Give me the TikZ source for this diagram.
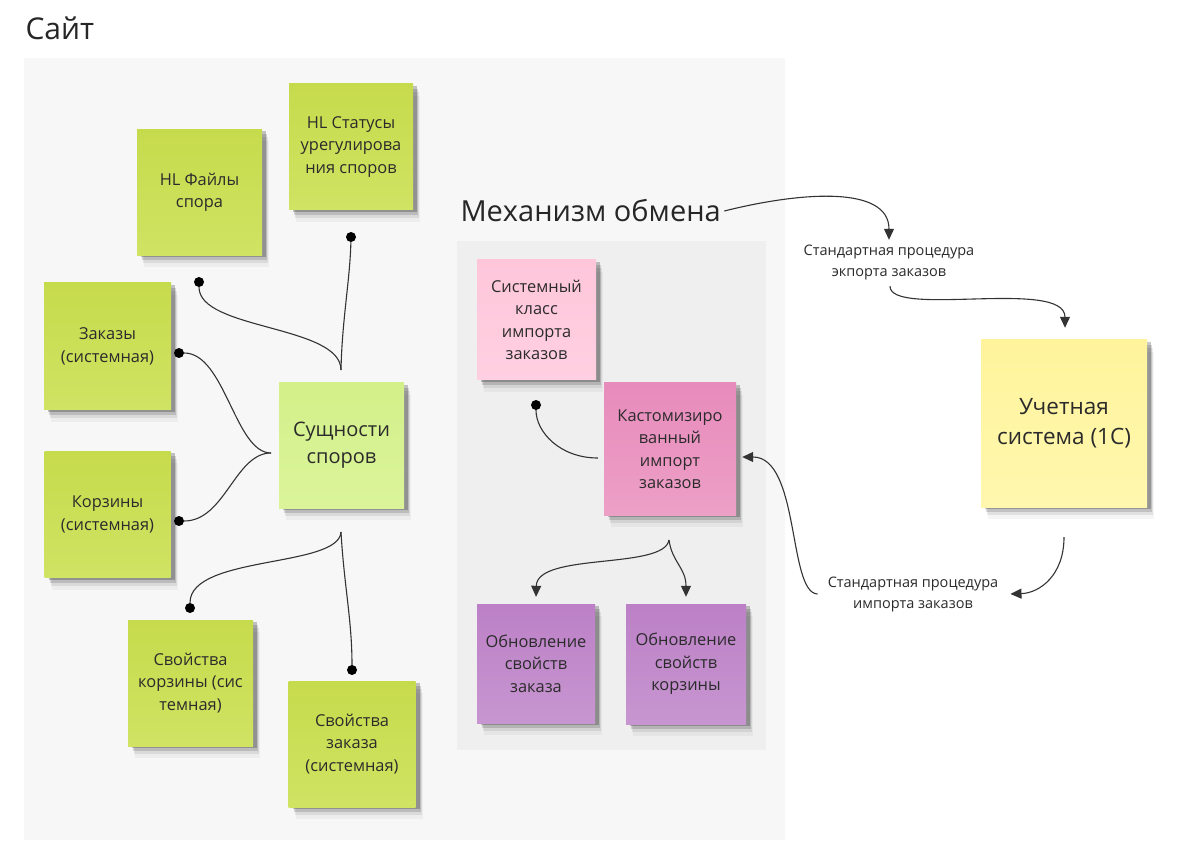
\documentclass[tikz,border=0pt]{standalone}
\usepackage{fontspec}
\setmainfont{Open Sans}
\usetikzlibrary{arrows.meta,shadows,calc}
\definecolor{txt}{HTML}{2B2B2B}
\definecolor{linec}{HTML}{333333}
\definecolor{panelA}{HTML}{F7F7F7}
\definecolor{panelB}{HTML}{EFEFEF}
\definecolor{limeT}{HTML}{C6DB4C}
\definecolor{limeB}{HTML}{D0E363}
\definecolor{paleT}{HTML}{D3F08A}
\definecolor{paleB}{HTML}{DBF49A}
\definecolor{pinkT}{HTML}{FFC6DA}
\definecolor{pinkB}{HTML}{FFD0E1}
\definecolor{roseT}{HTML}{E78BBC}
\definecolor{roseB}{HTML}{EDA0C6}
\definecolor{violT}{HTML}{BC80C6}
\definecolor{violB}{HTML}{C796D0}
\definecolor{yelT}{HTML}{FFF49C}
\definecolor{yelB}{HTML}{FFF7AE}
\begin{document}
\begin{tikzpicture}[x=1pt,y=-1pt,
  sticky/.style={inner sep=2pt, align=center, text=txt,
    font=\fontsize{16.4}{22.5}\selectfont,
    drop shadow={shadow xshift=4pt,shadow yshift=-2pt,opacity=.22,fill=black},
    drop shadow={shadow xshift=5pt,shadow yshift=-5pt,opacity=.14,fill=black},
    drop shadow={shadow xshift=6pt,shadow yshift=-8pt,opacity=.08,fill=black},
    drop shadow={shadow xshift=7pt,shadow yshift=-12pt,opacity=.04,fill=black}},
  lime/.style={sticky, top color=limeT, bottom color=limeB},
  pale/.style={sticky, top color=paleT, bottom color=paleB},
  pinkn/.style={sticky, top color=pinkT, bottom color=pinkB},
  rosen/.style={sticky, top color=roseT, bottom color=roseB},
  violn/.style={sticky, top color=violT, bottom color=violB},
  yeln/.style={sticky, top color=yelT, bottom color=yelB},
  dot/.style={circle, fill=black, minimum size=10pt, inner sep=0pt},
  conn/.style={draw=linec, line width=1.1pt},
  arr/.style={conn, -{Triangle[length=11pt,width=10pt]}},
  lab/.style={align=center, text=txt, inner sep=0pt, font=\fontsize{14.5}{21}\selectfont}
]
\useasboundingbox[fill=white] (0,0) rectangle (1200,866);
\fill[panelA] (24,58) rectangle (785,840);
\fill[panelB] (457,241) rectangle (766,750);

\node[anchor=west, text=black!85, font=\fontsize{30}{36}\selectfont] (title) at (22,28) {Сайт};

% site stickies
\node[lime, minimum width=125pt, minimum height=126pt] (files) at (199.5,192.5) {HL Файлы\\спора};
\node[lime, minimum width=124pt, minimum height=126pt] (stat) at (351,147) {HL Статусы\\урегулирова\\ния споров};
\node[lime, minimum width=127pt, minimum height=127pt] (orders) at (107.5,346.5) {Заказы\\(системная)};
\node[lime, minimum width=126pt, minimum height=126pt] (baskets) at (107.5,514.5) {Корзины\\(системная)};
\node[pale, minimum width=125pt, minimum height=125pt, font=\fontsize{20}{27}\selectfont] (ent) at (341.5,445.5) {Сущности\\споров};
\node[lime, minimum width=125pt, minimum height=126pt] (bprops) at (190.5,683) {Свойства\\корзины (сис\\темная)};
\node[lime, minimum width=127pt, minimum height=126pt] (oprops) at (352,744) {Свойства\\заказа\\(системная)};

% exchange
\node[anchor=west, text=black!85, font=\fontsize{29}{34}\selectfont] (mech) at (457,211) {Механизм обмена};
\node[pinkn, minimum width=119pt, minimum height=120pt] (sys) at (536.5,320) {Системный\\класс\\импорта\\заказов};
\node[rosen, minimum width=132pt, minimum height=132pt] (kast) at (670,449) {Кастомизиро\\ванный\\импорт\\заказов};
\node[violn, minimum width=118pt, minimum height=119pt] (upd1) at (536,663.5) {Обновление\\свойств\\заказа};
\node[violn, minimum width=120pt, minimum height=120pt] (upd2) at (686,664) {Обновление\\свойств\\корзины};

% accounting
\node[yeln, minimum width=166pt, minimum height=167pt, font=\fontsize{22.5}{30}\selectfont] (acc) at (1064,423.5) {Учетная\\система (1С)};
\node[lab] (exp) at (889,262.5) {Стандартная процедура\\экпорта заказов};
\node[lab] (imp) at (913,594) {Стандартная процедура\\импорта заказов};

% dots
\node[dot] (dFiles) at (199,282) {};
\node[dot] (dStat) at (351,237) {};
\node[dot] (dOrders) at (179,353) {};
\node[dot] (dBaskets) at (179,521) {};
\node[dot] (dBprops) at (190,608) {};
\node[dot] (dOprops) at (352,670) {};
\node[dot] (dSys) at (536,405) {};

% fork points
\coordinate (fTop) at (341,370);
\coordinate (fLeft) at (271,453);
\coordinate (fBot) at (341,532);
\coordinate (fKast) at (669,540);

\draw[conn] (fTop) .. controls (342,320) and (350,280) .. (dStat);
\draw[conn] (fTop) .. controls (341,325) and (199,330) .. (dFiles);
\draw[conn] (fLeft) .. controls (235,453) and (225,353) .. (dOrders);
\draw[conn] (fLeft) .. controls (235,453) and (225,521) .. (dBaskets);
\draw[conn] (fBot) .. controls (339,568) and (190,555) .. (dBprops);
\draw[conn] (fBot) .. controls (344,585) and (352,620) .. (dOprops);

\draw[conn] ($(kast.west)+(-6,9)$) .. controls (560,458) and (536,432) .. (dSys);
\draw[arr] (fKast) .. controls (664,570) and (537,552) .. ($(upd1.north)+(0,-7)$);
\draw[arr] (fKast) .. controls (672,562) and (686,568) .. ($(upd2.north)+(0,-7)$);

\draw[arr] (mech.east) .. controls (800,192) and (889,185) .. ($(exp.north)+(0,-5)$);
\draw[arr] ($(exp.south)+(1,6)$) .. controls (890,318) and (1065,278) .. ($(acc.north)+(1,-12)$);
\draw[arr] ($(acc.south)+(0,30)$) .. controls (1064,575) and (1040,593) .. ($(imp.east)+(12,0)$);
\draw[arr] ($(imp.west)+(-10,0)$) .. controls (788,593) and (800,457) .. ($(kast.east)+(6,8)$);
\end{tikzpicture}
\end{document}
